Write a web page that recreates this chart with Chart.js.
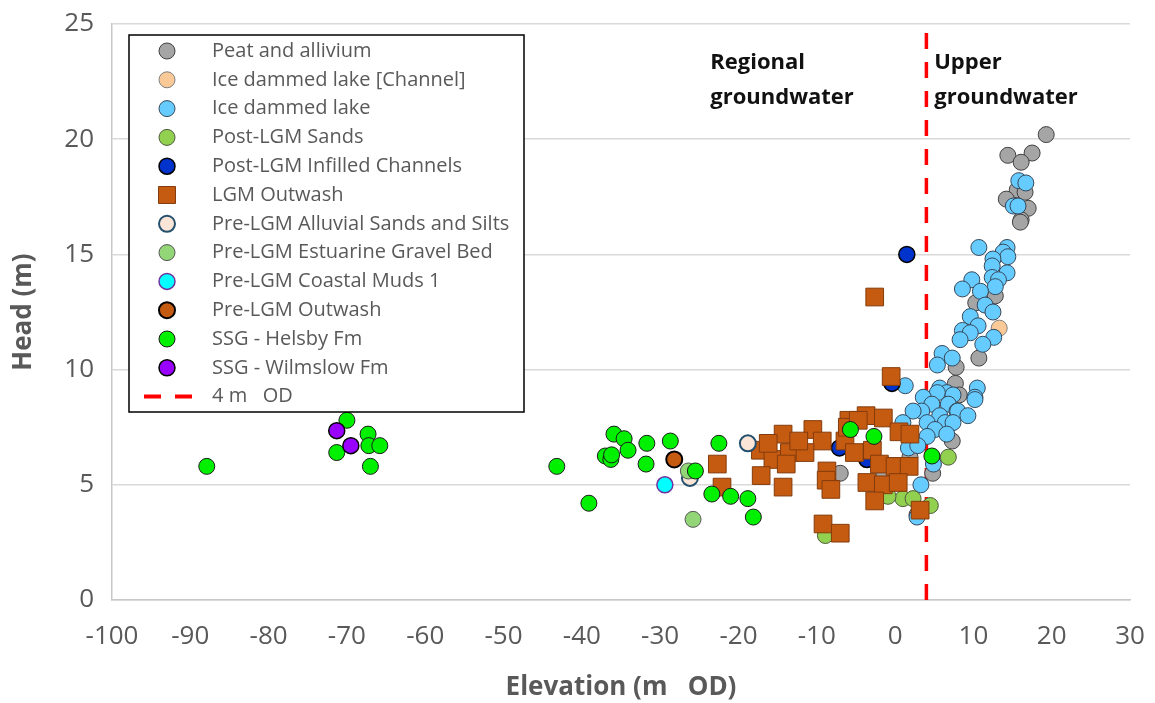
<!DOCTYPE html>
<html>
<head>
<meta charset="utf-8">
<script src="https://cdn.jsdelivr.net/npm/chart.js@4.4.1/dist/chart.umd.min.js"></script>
<style>
  html, body { margin: 0; padding: 0; background: #fff; }
  #wrap { width: 1155px; height: 703px; }
</style>
</head>
<body>
<div id="wrap"><canvas id="headChart" width="1155" height="703"></canvas></div>
<script>
// x = elevation (m OD), y = head (m)
var peat = [[19.3,20.2],[14.4,19.3],[17.5,19.4],[16.1,19.0],[15.6,17.8],[16.6,17.7],[14.2,17.4],[17.0,17.0],
  [16.1,16.5],[16.0,16.4],[12.8,13.2],[10.3,12.9],[10.7,10.5],[7.8,10.1],[7.7,9.4],[7.3,6.9],[8.2,8.9],
  [1.9,6.2],[4.8,5.5],[2.8,3.7],[-1.5,5.3],[-7.0,5.5]];
var iceChannel = [[13.3,11.8]];
var iceLake = [[15.8,18.2],[16.7,18.1],[15.1,17.1],[15.7,17.1],
  [10.7,15.3],[14.3,15.3],[13.8,15.1],[14.4,14.9],[12.5,14.8],[12.4,14.5],[14.3,14.2],[12.4,14.0],
  [9.8,13.9],[13.2,13.9],[12.8,13.6],[8.6,13.5],[10.9,13.4],[11.5,12.8],[12.5,12.5],[9.6,12.3],
  [10.6,11.9],[8.6,11.7],[9.6,11.6],[12.6,11.4],[8.3,11.3],[11.2,11.1],[6.0,10.7],[7.3,10.5],
  [5.4,10.2],[1.3,9.3],[10.5,9.2],[5.7,9.2],[6.6,9.0],[5.4,9.0],[7.4,8.9],[10.2,8.8],[3.6,8.8],
  [4.7,8.5],[6.8,8.5],[10.2,8.7],[3.4,8.2],[2.3,8.2],[7.9,8.2],[8.0,8.2],[9.3,8.0],[5.7,8.0],
  [4.1,7.7],[6.4,7.7],[7.4,7.7],[1.0,7.7],[5.1,7.4],[4.1,7.1],[6.6,7.2],[1.7,6.6],[2.9,6.7],
  [4.9,5.9],[3.3,5.0],[2.8,3.6]];
var postLgmSands = [[6.8,6.2],[1.0,4.4],[2.3,4.4],[4.5,4.1],[-0.9,4.5],[-8.9,2.8]];
var postLgmChannels = [[1.5,15.0],[-0.4,9.4],[-7.1,6.6],[-3.6,6.1]];
var lgmOutwash = [[-2.6,13.15],[-0.5,9.7],[-5.9,7.8],[-3.7,8.0],[-1.5,7.9],[0.5,7.3],[1.9,7.2],
  [-6.4,6.9],[-5.2,6.4],[-2.9,6.5],[-2.0,5.9],[0.0,5.8],[1.8,5.8],[-3.6,5.1],[-1.5,5.0],[0.4,5.1],
  [-2.6,4.3],[3.2,3.9],[-14.3,7.2],[-10.5,7.4],[-9.3,6.9],[-17.2,6.5],[-15.6,6.1],[-13.5,6.4],
  [-11.5,6.4],[-13.9,5.9],[-17.1,5.4],[-14.3,4.9],[-8.7,5.6],[-8.8,5.2],[-8.2,4.8],[-9.2,3.3],
  [-7.0,2.9],[-22.7,5.9],[-22.1,4.9],[-12.3,6.9],[-16.2,6.8],[-6.1,7.5],[-4.7,7.8]];
var preLgmAlluvial = [[-18.8,6.8],[-26.2,5.3]];
var preLgmEstuarine = [[-25.8,3.5],[-26.4,5.6]];
var preLgmCoastal = [[-29.4,5.0]];
var preLgmOutwash = [[-28.2,6.1]];
var helsby = [[-87.9,5.8],[-70.0,7.8],[-71.3,6.4],[-67.3,7.2],[-67.2,6.7],[-65.8,6.7],[-67.0,5.8],
  [-43.2,5.8],[-39.1,4.2],[-35.9,7.2],[-34.6,7.0],[-34.1,6.5],[-37.0,6.25],[-36.3,6.1],[-36.2,6.3],
  [-31.7,6.8],[-31.8,5.9],[-28.7,6.9],[-22.5,6.8],[-25.5,5.6],[-23.4,4.6],[-21.0,4.5],[-18.8,4.4],
  [-18.1,3.6],[-5.7,7.4],[-2.7,7.1],[4.7,6.25]];
var wilmslow = [[-71.3,7.35],[-69.5,6.7]];
var odLine = [[4,0],[4,25]];

var xTicks = [-100, 30, 10];   // min, max, step
var yTicks = [0, 25, 5];
var notes = [
  { x: -23.6, y: 23.3, text: "Regional" },
  { x: -23.6, y: 21.8, text: "groundwater" },
  { x: 5.0, y: 23.3, text: "Upper" },
  { x: 5.0, y: 21.8, text: "groundwater" }
];

var FONT = "'Open Sans', sans-serif";

function pts(arr) {
  return arr.map(function (p) { return { x: p[0], y: p[1] }; });
}

var series = [
  { label: "Peat and allivium", data: peat, fill: "#a5a5a5", edge: "#404040", bw: 1 },
  { label: "Ice dammed lake [Channel]", data: iceChannel, fill: "#f9c997", edge: "#808080", bw: 1 },
  { label: "Ice dammed lake", data: iceLake, fill: "#66ccff", edge: "#36485a", bw: 1 },
  { label: "Post-LGM Sands", data: postLgmSands, fill: "#92d050", edge: "#4b5a3c", bw: 1 },
  { label: "Post-LGM Infilled Channels", data: postLgmChannels, fill: "#0033cc", edge: "#000000", bw: 1.5 },
  { label: "LGM Outwash", data: lgmOutwash, fill: "#c55a11", edge: "#843c0c", bw: 1, style: "rect" },
  { label: "Pre-LGM Alluvial Sands and Silts", data: preLgmAlluvial, fill: "#fbe5d6", edge: "#24506e", bw: 2 },
  { label: "Pre-LGM Estuarine Gravel Bed", data: preLgmEstuarine, fill: "#93d677", edge: "#555555", bw: 1 },
  { label: "Pre-LGM Coastal Muds 1", data: preLgmCoastal, fill: "#00ffff", edge: "#7030a0", bw: 1.5 },
  { label: "Pre-LGM Outwash", data: preLgmOutwash, fill: "#c55a11", edge: "#000000", bw: 2 },
  { label: "SSG - Helsby Fm", data: helsby, fill: "#00f000", edge: "#1a1a1a", bw: 1 },
  { label: "SSG - Wilmslow Fm", data: wilmslow, fill: "#9900ff", edge: "#000000", bw: 1.5 }
];

var datasets = series.map(function (s, i) {
  return {
    label: s.label,
    data: pts(s.data),
    backgroundColor: s.fill,
    borderColor: s.edge,
    borderWidth: s.bw,
    pointStyle: s.style || "circle",
    pointRadius: s.style === "rect" ? 12.5 : 8,
    pointHoverRadius: s.style === "rect" ? 12.5 : 8,
    order: series.length - i
  };
});

datasets.push({
  type: "line",
  label: "4 m   OD",
  data: pts(odLine),
  borderColor: "#ff0000",
  borderWidth: 3.5,
  borderDash: [16, 13],
  pointRadius: 0,
  fill: false,
  order: 100
});

// legend box drawn inside the plot, plus the two text notes
var boxPlugin = {
  id: "boxLegend",
  afterDatasetsDraw: function (chart) {
    var ctx = chart.ctx;
    var xs = chart.scales.x, ys = chart.scales.y;
    ctx.save();

    ctx.font = "bold 22px " + FONT;
    ctx.fillStyle = "#111111";
    ctx.textBaseline = "middle";
    ctx.textAlign = "left";
    notes.forEach(function (n) {
      ctx.fillText(n.text, xs.getPixelForValue(n.x), ys.getPixelForValue(n.y));
    });

    var left = 129, top = 35, w = 395, h = 377;
    ctx.fillStyle = "#ffffff";
    ctx.fillRect(left, top, w, h);
    ctx.strokeStyle = "#000000";
    ctx.lineWidth = 1.5;
    ctx.strokeRect(left, top, w, h);

    ctx.font = "20px " + FONT;
    chart.data.datasets.forEach(function (ds, i) {
      var cy = 51 + i * 28.8;
      if (ds.type === "line") {
        ctx.strokeStyle = ds.borderColor;
        ctx.lineWidth = 4;
        ctx.beginPath();
        ctx.moveTo(144, cy); ctx.lineTo(161, cy);
        ctx.moveTo(175, cy); ctx.lineTo(192, cy);
        ctx.stroke();
      } else {
        ctx.fillStyle = ds.backgroundColor;
        ctx.strokeStyle = ds.borderColor;
        ctx.lineWidth = ds.borderWidth;
        Chart.helpers.drawPoint(ctx, {
          pointStyle: ds.pointStyle,
          radius: ds.pointStyle === "rect" ? 12 : 8,
          rotation: 0,
          borderWidth: ds.borderWidth
        }, 167, cy);
      }
      ctx.fillStyle = "#595959";
      ctx.fillText(ds.label, 212, cy);
    });
    ctx.restore();
  }
};

new Chart(document.getElementById("headChart"), {
  type: "scatter",
  data: { datasets: datasets },
  plugins: [boxPlugin],
  options: {
    responsive: false,
    animation: false,
    layout: { padding: { left: 0, top: 24, right: 25, bottom: 0 } },
    plugins: {
      legend: { display: false },
      tooltip: { enabled: false }
    },
    scales: {
      x: {
        type: "linear",
        min: xTicks[0], max: xTicks[1],
        ticks: { stepSize: xTicks[2], color: "#595959", font: { family: FONT, size: 26 }, padding: 21 },
        grid: { display: false, drawTicks: false },
        border: { color: "#c8c8c8", width: 1.5 },
        title: { display: true, text: "Elevation (m   OD)", color: "#595959",
                 font: { family: FONT, size: 26, weight: "bold" }, padding: { top: 0, bottom: 0 } },
        afterFit: function (s) { s.height = 103; s.paddingLeft = 0; s.paddingRight = 0; }
      },
      y: {
        type: "linear",
        min: yTicks[0], max: yTicks[1],
        ticks: { stepSize: yTicks[2], color: "#595959", font: { family: FONT, size: 26 }, padding: 18 },
        grid: { color: "#d9d9d9", lineWidth: 1.5, drawTicks: false },
        border: { color: "#c8c8c8", width: 1.5 },
        title: { display: true, text: "Head (m)", color: "#595959",
                 font: { family: FONT, size: 26, weight: "bold" }, padding: { top: 8, bottom: 0 } },
        afterFit: function (s) { s.width = 112; s.paddingTop = 0; s.paddingBottom = 0; }
      }
    }
  }
});
</script>
</body>
</html>
